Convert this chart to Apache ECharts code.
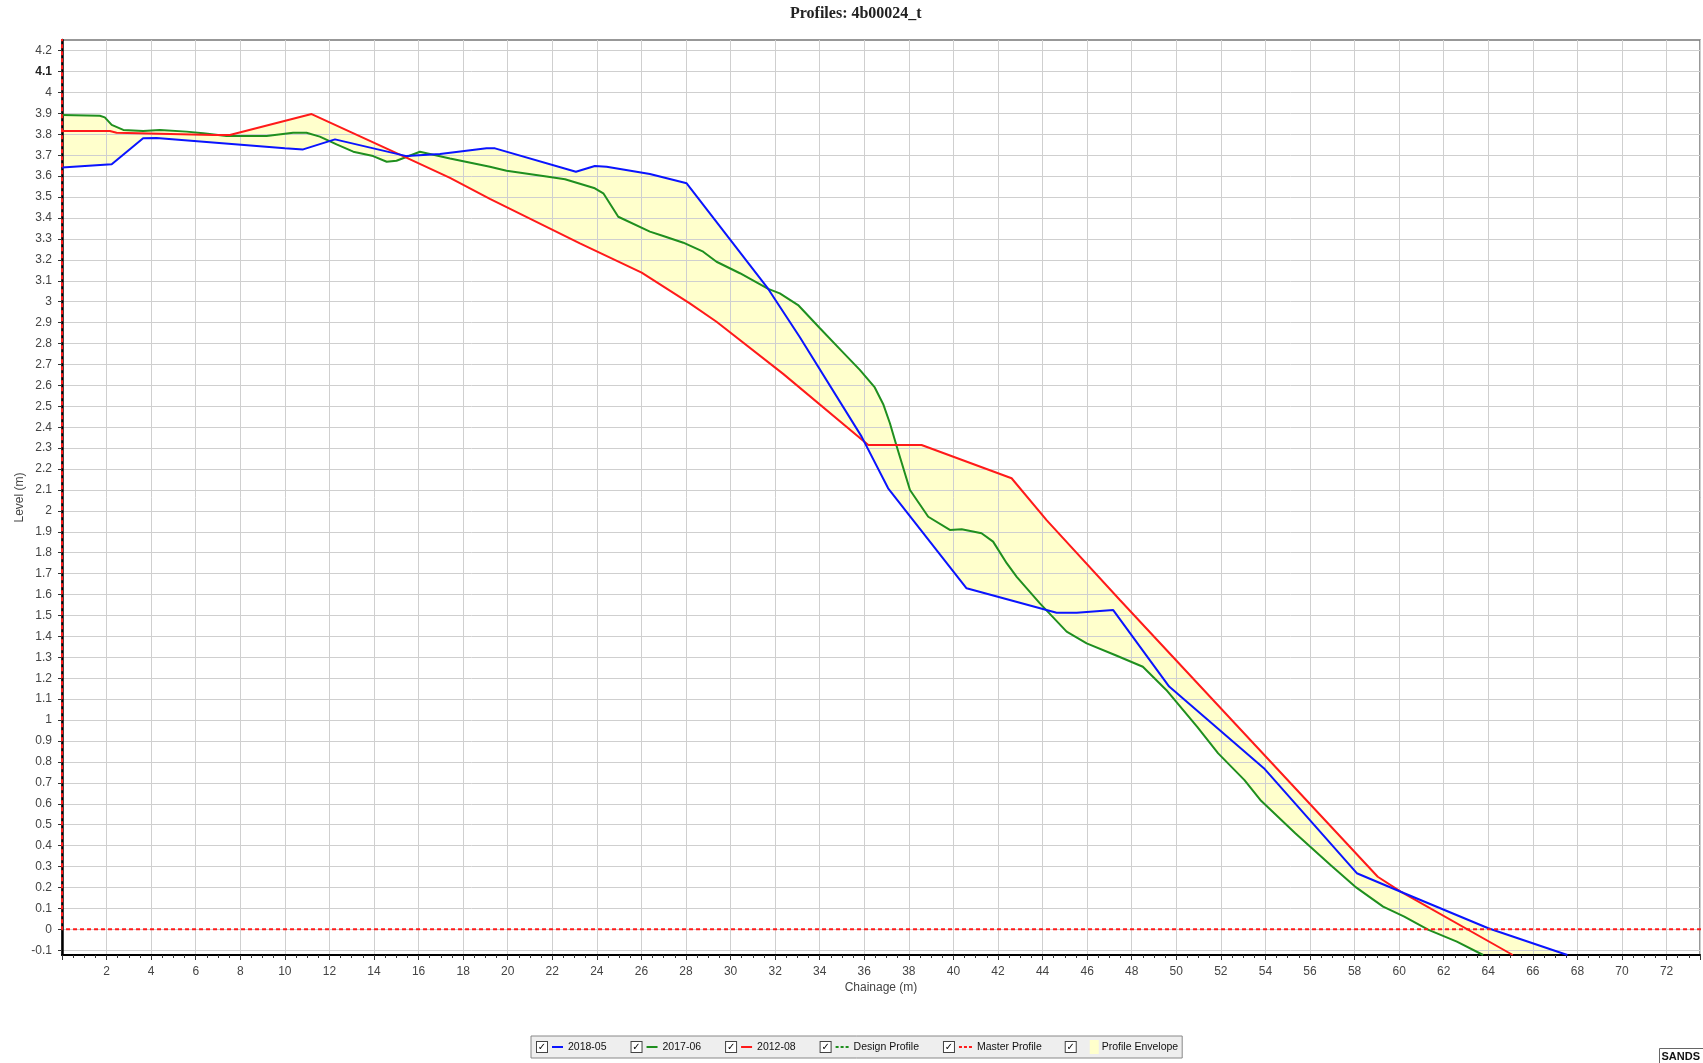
<!DOCTYPE html>
<html><head><meta charset="utf-8">
<script src="https://cdn.jsdelivr.net/npm/echarts@6/dist/echarts.min.js"></script>
<style>html,body{margin:0;padding:0;background:#fff}#c{width:1703px;height:1063px}</style>
</head><body><div id="c"></div>
<script>
const chartTitle = 'Profiles: 4b00024_t';
const xName = 'Chainage (m)';
const yName = 'Level (m)';
const stampText = 'SANDS';
const legendNames = ['2018-05', '2017-06', '2012-08', 'Design Profile', 'Master Profile', 'Profile Envelope'];

// 2018-05 (blue)
const x2018 = [0, 2.23, 3.64, 4.24, 10.0, 10.82, 12.25, 15.46, 16.96, 19.05, 19.43, 23.06, 23.91, 24.44, 26.38, 28.03, 31.69, 33.11, 35.88, 37.07, 40.59, 44.63, 45.53, 47.17, 49.68, 53.93, 58.10, 60.23, 64.0, 67.55];
const y2018 = [3.641, 3.657, 3.781, 3.782, 3.733, 3.728, 3.776, 3.696, 3.706, 3.733, 3.733, 3.621, 3.649, 3.645, 3.610, 3.566, 3.061, 2.830, 2.355, 2.108, 1.630, 1.513, 1.513, 1.526, 1.160, 0.770, 0.268, 0.172, 0.005, -0.123];

// 2017-06 (green)
const x2017 = [0, 1.70, 1.92, 2.23, 2.75, 3.64, 4.39, 5.59, 6.34, 7.38, 9.18, 10.37, 10.97, 11.57, 12.32, 13.07, 13.96, 14.57, 15.01, 16.06, 17.41, 19.2, 19.95, 21.74, 22.57, 23.91, 24.29, 24.96, 26.38, 26.98, 27.88, 28.77, 29.37, 30.42, 31.69, 32.21, 33.03, 34.01, 34.98, 35.80, 36.47, 36.85, 37.15, 37.45, 38.05, 38.87, 39.84, 40.37, 41.26, 41.78, 42.39, 42.84, 43.88, 45.08, 45.98, 47.25, 48.50, 49.55, 50.94, 51.88, 53.06, 53.77, 55.34, 56.92, 58.02, 59.28, 60.23, 61.32, 62.59, 63.77];
const y2017 = [3.892, 3.889, 3.881, 3.845, 3.821, 3.816, 3.821, 3.813, 3.805, 3.792, 3.792, 3.808, 3.808, 3.789, 3.752, 3.717, 3.696, 3.669, 3.674, 3.717, 3.685, 3.645, 3.626, 3.598, 3.585, 3.542, 3.518, 3.406, 3.335, 3.314, 3.282, 3.239, 3.191, 3.136, 3.061, 3.040, 2.984, 2.873, 2.765, 2.674, 2.590, 2.510, 2.419, 2.310, 2.100, 1.972, 1.909, 1.912, 1.893, 1.853, 1.750, 1.685, 1.558, 1.423, 1.367, 1.311, 1.255, 1.144, 0.968, 0.841, 0.713, 0.618, 0.459, 0.307, 0.204, 0.108, 0.060, -0.003, -0.059, -0.123];

// 2012-08 (red)
const x2012 = [0, 2.15, 2.45, 6.78, 7.53, 11.2, 15.16, 17.41, 19.2, 23.24, 26.01, 28.17, 29.37, 32.36, 36.18, 38.57, 42.61, 44.18, 47.47, 59.04, 60.07, 65.1];
const y2012 = [3.816, 3.816, 3.808, 3.797, 3.797, 3.897, 3.703, 3.592, 3.492, 3.279, 3.139, 2.992, 2.904, 2.655, 2.315, 2.315, 2.156, 1.956, 1.574, 0.251, 0.180, -0.123];

// Design profile: no points shown
const xDesign = [];
const yDesign = [];

// Master profile (red dashed)
const xMaster = [0, 0, 80];
const yMaster = [5, 0, 0];

// Axis ticks
const yTicks = [-0.1, 0, 0.1, 0.2, 0.3, 0.4, 0.5, 0.6, 0.7, 0.8, 0.9, 1, 1.1, 1.2, 1.3, 1.4, 1.5, 1.6, 1.7, 1.8, 1.9, 2, 2.1, 2.2, 2.3, 2.4, 2.5, 2.6, 2.7, 2.8, 2.9, 3, 3.1, 3.2, 3.3, 3.4, 3.5, 3.6, 3.7, 3.8, 3.9, 4, 4.1, 4.2];
const xTickStep = 2;

const pairs = (xs, ys) => xs.map((x, i) => [x, ys[i]]);

const COL_BLUE = '#0a14ff', COL_GREEN = '#1f8f1f', COL_RED = '#ff1a1a', ENV = '#ffffcc';
const FONT = "'Liberation Sans', Arial, sans-serif";

const legendIcon = {
  '2018-05': '{sp|}{lb|}{sp|}',
  '2017-06': '{sp|}{lg|}{sp|}',
  '2012-08': '{sp|}{lr|}{sp|}',
  'Design Profile': '{sp|}{dg|}{ds|}{dg|}{ds|}{dg|}{sp|}',
  'Master Profile': '{sp|}{dr|}{ds|}{dr|}{ds|}{dr|}{sp|}',
  'Profile Envelope': '{big|}{sw|}{sp2|}'
};

const chart = echarts.init(document.getElementById('c'));
chart.setOption({
  animation: false,
  backgroundColor: '#ffffff',
  grid: { left: 62, top: 40, right: 3, bottom: 108, show: true, borderColor: '#777', borderWidth: 1.5, backgroundColor: 'transparent' },
  xAxis: {
    type: 'value', min: 0, max: 73.5, interval: xTickStep,
    name: xName, nameLocation: 'middle', nameGap: 27, nameMoveOverlap: false,
    nameTextStyle: { fontFamily: FONT, fontSize: 12, color: '#444' },
    axisLine: { onZero: false, lineStyle: { color: '#000', width: 2 } },
    axisTick: { show: true, length: 5, lineStyle: { color: '#333' } },
    minorTick: { show: true, splitNumber: 4, length: 3, lineStyle: { color: '#333' } },
    axisLabel: { fontFamily: FONT, fontSize: 12, color: '#444', margin: 11, showMinLabel: false, showMaxLabel: false },
    splitLine: { show: true, lineStyle: { color: '#cfcfcf', width: 1 } }
  },
  yAxis: {
    type: 'value', min: -0.123, max: 4.251,
    name: yName, nameLocation: 'middle', nameGap: 36, nameRotate: 90, nameMoveOverlap: false,
    nameTextStyle: { fontFamily: FONT, fontSize: 12, color: '#444' },
    axisLine: { onZero: false, lineStyle: { color: '#000', width: 2.5 } },
    axisTick: { show: true, length: 4, customValues: yTicks, lineStyle: { color: '#333' } },
    axisLabel: {
      fontFamily: FONT, fontSize: 12, color: '#444', margin: 10, customValues: yTicks,
      formatter: v => { const s = String(Math.round(v * 10) / 10); return s === '4.1' ? '{b|' + s + '}' : s; },
      rich: { b: { fontFamily: FONT, fontSize: 12, fontWeight: 'bold', color: '#222' } }
    },
    splitLine: { show: true, lineStyle: { color: '#cfcfcf', width: 1 } }
  },
  legend: {
    data: legendNames, left: 531, top: 1036, orient: 'horizontal',
    selectedMode: false, itemWidth: 0, itemHeight: 0, itemGap: 19,
    padding: [4, 4, 4, 0], backgroundColor: '#eeeeee', borderColor: '#888', borderWidth: 1, borderRadius: 0,
    formatter: n => '{cb|✓}' + legendIcon[n] + '{t|' + n + '}',
    textStyle: {
      rich: {
        cb: { width: 10, height: 10, lineHeight: 11, borderColor: '#444', borderWidth: 1, backgroundColor: '#fff', align: 'center', verticalAlign: 'middle', fontSize: 10, fontFamily: 'DejaVu Sans', color: '#000' },
        sp: { width: 5, height: 2, verticalAlign: 'middle' },
        sp2: { width: 3, height: 2, verticalAlign: 'middle' },
        big: { width: 14, height: 2, verticalAlign: 'middle' },
        lb: { width: 11, height: 2, backgroundColor: COL_BLUE, verticalAlign: 'middle' },
        lg: { width: 11, height: 2, backgroundColor: COL_GREEN, verticalAlign: 'middle' },
        lr: { width: 11, height: 2, backgroundColor: COL_RED, verticalAlign: 'middle' },
        dg: { width: 3, height: 2, backgroundColor: COL_GREEN, verticalAlign: 'middle' },
        dr: { width: 3, height: 2, backgroundColor: COL_RED, verticalAlign: 'middle' },
        ds: { width: 2, height: 2, verticalAlign: 'middle' },
        sw: { width: 9, height: 14, backgroundColor: ENV, verticalAlign: 'middle' },
        t: { fontSize: 10.5, fontFamily: FONT, color: '#111', verticalAlign: 'middle', lineHeight: 14 }
      }
    }
  },
  graphic: [
    { type: 'text', left: 790, top: 6, style: { text: chartTitle, font: "bold 16px 'Liberation Serif', 'Times New Roman', serif", fill: '#222' } },
    { type: 'group', left: 1659, top: 1048, children: [
      { type: 'rect', shape: { x: 0, y: 0, width: 46, height: 16 }, style: { fill: '#fff', stroke: '#666', lineWidth: 1 } },
      { type: 'text', x: 2, y: 8, style: { text: stampText, font: "bold 11px 'Liberation Sans', Arial, sans-serif", fill: '#111', verticalAlign: 'middle' } }
    ] }
  ],
  series: [
    {
      name: 'Profile Envelope', type: 'custom', coordinateSystem: 'cartesian2d', z: -1, silent: true,
      itemStyle: { color: ENV }, data: [[0, 0]],
      renderItem: function (params, api) {
        const lines = [[x2018, y2018], [x2017, y2017], [x2012, y2012]];
        const combos = [[0, 1], [0, 2], [1, 2]];
        const children = combos.map(([a, b]) => {
          const pts = [];
          const [xa, ya] = lines[a], [xb, yb] = lines[b];
          for (let i = 0; i < xa.length; i++) pts.push(api.coord([xa[i], ya[i]]));
          for (let i = xb.length - 1; i >= 0; i--) pts.push(api.coord([xb[i], yb[i]]));
          return { type: 'polygon', shape: { points: pts }, style: { fill: ENV, stroke: null } };
        });
        return { type: 'group', children: children };
      }
    },
    { name: 'Design Profile', type: 'line', data: pairs(xDesign, yDesign), showSymbol: false,
      itemStyle: { color: COL_GREEN }, lineStyle: { color: COL_GREEN, width: 2, type: [4, 3] } },
    { name: '2017-06', type: 'line', data: pairs(x2017, y2017), showSymbol: false, symbol: 'none',
      itemStyle: { color: COL_GREEN }, lineStyle: { color: COL_GREEN, width: 2 } },
    { name: '2012-08', type: 'line', data: pairs(x2012, y2012), showSymbol: false, symbol: 'none',
      itemStyle: { color: COL_RED }, lineStyle: { color: COL_RED, width: 2 } },
    { name: '2018-05', type: 'line', data: pairs(x2018, y2018), showSymbol: false, symbol: 'none',
      itemStyle: { color: COL_BLUE }, lineStyle: { color: COL_BLUE, width: 2 } },
    { name: 'Master Profile', type: 'line', data: pairs(xMaster, yMaster), showSymbol: false, symbol: 'none', clip: true,
      itemStyle: { color: COL_RED }, lineStyle: { color: COL_RED, width: 2, type: [4, 3] } }
  ]
});
</script>
</body></html>
